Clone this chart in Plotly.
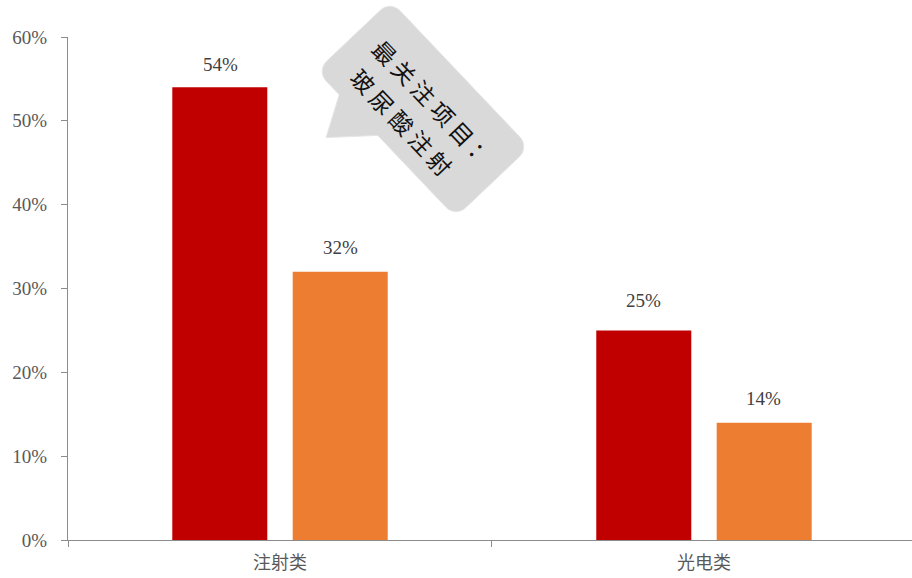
import math
import plotly.graph_objects as go

# Survey shares by project category
categories = ["注射类", "光电类"]
share_first = [54, 25]
share_second = [32, 14]
y_tick_vals = [0, 10, 20, 30, 40, 50, 60]
y_tick_text = ["0%", "10%", "20%", "30%", "40%", "50%", "60%"]
callout_lines = ["最关注项目：", "玻尿酸注射"]

W, H = 912, 578
ML, MR, MT, MB = 68, 0, 37, 38
PW, PH = W - ML - MR, H - MT - MB

RED = "#C00000"
ORANGE = "#ED7D31"
AXIS = "#8C8C8C"
SERIF = "Liberation Serif, Times New Roman, serif"
CJK = "Noto Sans CJK SC"

fig = go.Figure()
fig.add_trace(go.Bar(x=categories, y=share_first, name="系列1",
                     marker=dict(color=RED, line=dict(width=0)), showlegend=False))
fig.add_trace(go.Bar(x=categories, y=share_second, name="系列2",
                     marker=dict(color=ORANGE, line=dict(width=0)), showlegend=False))

# value labels above each bar
label_lift = [[23, 24], [30, 24]]
bar_shift = [-60, 60]
for ci, cat in enumerate(categories):
    for si, vals in enumerate([share_first, share_second]):
        fig.add_annotation(x=cat, y=vals[ci], xref="x", yref="y",
                           text=f"{vals[ci]}%", showarrow=False,
                           xshift=bar_shift[si], yshift=label_lift[ci][si],
                           xanchor="center", yanchor="middle",
                           font=dict(family=SERIF, size=19, color="#404040"))


def to_paper(px, py):
    return (px - ML) / PW, (MT + PH - py) / PH


# speech-bubble callout: rotated rounded rectangle with a pointer
theta = math.radians(46.5)
cx, cy = 423, 109
L, Wd, r = 202, 102, 14
ct, st = math.cos(theta), math.sin(theta)


def local(a, b):
    return cx + a * ct - b * st, cy + a * st + b * ct


def arc(ac, bc, a0, a1, n=8):
    pts = []
    for k in range(n + 1):
        t = math.radians(a0 + (a1 - a0) * k / n)
        pts.append((ac + r * math.cos(t), bc + r * math.sin(t)))
    return pts


hl, hw = L / 2, Wd / 2
pts = []
pts += arc(hl - r, -hw + r, 270, 360)
pts += arc(hl - r, hw - r, 0, 90)
pts += [(-12, hw), (-46, 90), (-68, hw)]
pts += arc(-hl + r, hw - r, 90, 180)
pts += arc(-hl + r, -hw + r, 180, 270)

path = ""
for i, (a, b) in enumerate(pts):
    xp, yp = to_paper(*local(a, b))
    path += ("M" if i == 0 else "L") + f"{xp:.5f},{yp:.5f} "
path += "Z"
fig.add_shape(type="path", path=path, xref="paper", yref="paper",
              fillcolor="#D9D9D9", line=dict(color="#E6E6E6", width=1),
              layer="above")

# callout text, laid out character by character along the rotated box
step = 28
line_pos = [(2.5, -12), (-5, 24)]
for line, (a0, b0) in zip(callout_lines, line_pos):
    n = len(line)
    for i, ch in enumerate(line):
        a = a0 + (i - (n - 1) / 2) * step
        xp, yp = to_paper(*local(a, b0))
        fig.add_annotation(x=xp, y=yp, xref="paper", yref="paper", text=ch,
                           showarrow=False, textangle=46.5,
                           xanchor="center", yanchor="middle",
                           font=dict(family=CJK, size=23, color="#111111"))

fig.update_layout(
    width=W, height=H,
    margin=dict(l=ML, r=MR, t=MT, b=MB),
    paper_bgcolor="white", plot_bgcolor="white",
    barmode="group", bargap=0.432, bargroupgap=0.211,
    xaxis=dict(type="category", range=[-0.5, 1.4906],
               showline=True, linecolor=AXIS, linewidth=1.3,
               ticks="outside", tickson="boundaries", ticklen=6,
               tickcolor=AXIS, tickwidth=1.3, showgrid=False,
               tickfont=dict(family=CJK, size=18, color="#595959"),
               ticklabelstandoff=6),
    yaxis=dict(range=[0, 60], tickvals=y_tick_vals, ticktext=y_tick_text,
               showline=True, linecolor=AXIS, linewidth=1.3,
               ticks="outside", ticklen=6, tickcolor=AXIS, tickwidth=1.3,
               showgrid=False, zeroline=False,
               tickfont=dict(family=SERIF, size=19, color="#595959"),
               ticklabelstandoff=10),
)

fig.write_html("out.html")
